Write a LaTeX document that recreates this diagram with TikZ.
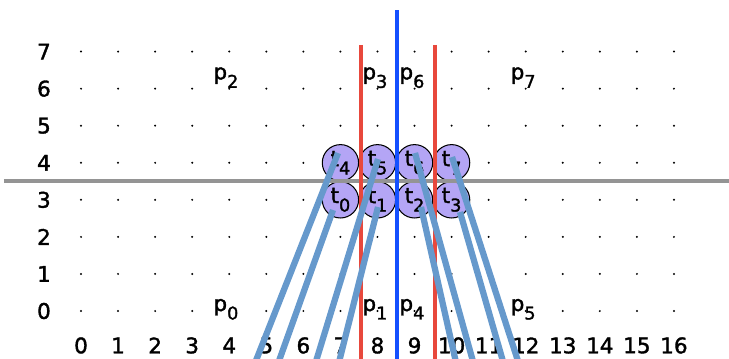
\documentclass[tikz,border=0pt]{standalone}
\usepackage{fontspec}
\setmainfont{DejaVu Sans}
\newfontfamily\figfont{DejaVu Sans}[FakeBold=1.6]
\usetikzlibrary{calc}

\definecolor{tilefill}{RGB}{180,165,245}
\definecolor{threadblue}{RGB}{102,153,204}
\definecolor{splitred}{RGB}{232,72,60}
\definecolor{splitblue}{RGB}{20,80,255}

\newcommand{\lowidx}[1]{\raisebox{-6.5pt}{\fontsize{13.5}{14}\selectfont #1}}

\begin{document}
\begin{tikzpicture}[
  font=\figfont\fontsize{16.5}{18}\selectfont,
  axlabel/.style={inner sep=0pt, anchor=center},
  plabel/.style={inner sep=0pt, anchor=base},
  tile/.style={
    circle,
    draw=black,
    line width=0.8pt,
    fill=tilefill,
    minimum size=0.98cm,
    inner sep=0pt
  },
  halfline/.style={line width=3.5pt, black!42},
  redsplit/.style={line width=3pt, splitred},
  bluesplit/.style={line width=3pt, splitblue},
  thread/.style={line width=4.8pt, threadblue}
]
\useasboundingbox (-2.186,-1.268) rectangle (17.485,8.392);

% grid of dots
\foreach \i in {0,...,16}
  \foreach \j in {0,...,7}
    \fill (\i,\j) circle (0.03);

% axis numbers
\foreach \j in {0,...,7}
  \node[axlabel] (y\j) at (-1,\j) {\j};
\foreach \i in {0,...,16}
  \node[axlabel] (x\i) at (\i,-0.93) {\i};

% tiles
\node[tile] (t0) at (7,3) {};
\node[tile] (t1) at (8,3) {};
\node[tile] (t2) at (9,3) {};
\node[tile] (t3) at (10,3) {};
\node[tile] (t4) at (7,4) {};
\node[tile] (t5) at (8,4) {};
\node[tile] (t6) at (9,4) {};
\node[tile] (t7) at (10,4) {};

\foreach \k in {0,...,7}
  \node[inner sep=0pt] (lt\k) at (t\k.center) {t\lowidx{\k}};

% processor labels
\node[plabel] (p0) at (3.91,0) {p\lowidx{0}};
\node[plabel] (p1) at (7.93,0) {p\lowidx{1}};
\node[plabel] (p4) at (8.93,0) {p\lowidx{4}};
\node[plabel] (p5) at (11.93,0) {p\lowidx{5}};
\node[plabel] (p2) at (3.91,6.25) {p\lowidx{2}};
\node[plabel] (p3) at (7.93,6.25) {p\lowidx{3}};
\node[plabel] (p6) at (8.93,6.25) {p\lowidx{6}};
\node[plabel] (p7) at (11.93,6.25) {p\lowidx{7}};

% splitting lines
\coordinate (hl) at (-2.08,3.51);
\coordinate (hr) at (17.6,3.51);
\draw[halfline] (hl) -- (hr);

\coordinate (ra) at (7.55,7.18);
\coordinate (rab) at (7.55,-1.4);
\coordinate (rb) at (9.55,7.18);
\coordinate (rbb) at (9.55,-1.4);
\coordinate (bc) at (8.53,8.12);
\coordinate (bcb) at (8.53,-1.4);
\draw[redsplit] (ra) -- (rab);
\draw[redsplit] (rb) -- (rbb);
\draw[bluesplit] (bc) -- (bcb);

% threads leaving the tiles
\coordinate (e0) at (5.287,-1.5);
\coordinate (e1) at (6.931,-1.5);
\coordinate (e2) at (10.144,-1.5);
\coordinate (e3) at (11.427,-1.5);
\coordinate (e4) at (4.657,-1.5);
\coordinate (e5) at (6.297,-1.5);
\coordinate (e6) at (10.616,-1.5);
\coordinate (e7) at (11.840,-1.5);

\draw[thread] ($(t4)+(-0.065,0.263)$) -- (e4);
\draw[thread] ($(t0)+(-0.2,-0.275)$) -- (e0);
\draw[thread] ($(t5)+(0.014,0.101)$) -- (e5);
\draw[thread] ($(t1)+(0.014,-0.194)$) -- (e1);
\draw[thread] ($(t6)+(0.012,0.263)$) -- (e6);
\draw[thread] ($(t2)+(0.174,-0.194)$) -- (e2);
\draw[thread] ($(t7)+(0.011,0.155)$) -- (e7);
\draw[thread] ($(t3)+(0.227,-0.329)$) -- (e3);

\end{tikzpicture}
\end{document}
